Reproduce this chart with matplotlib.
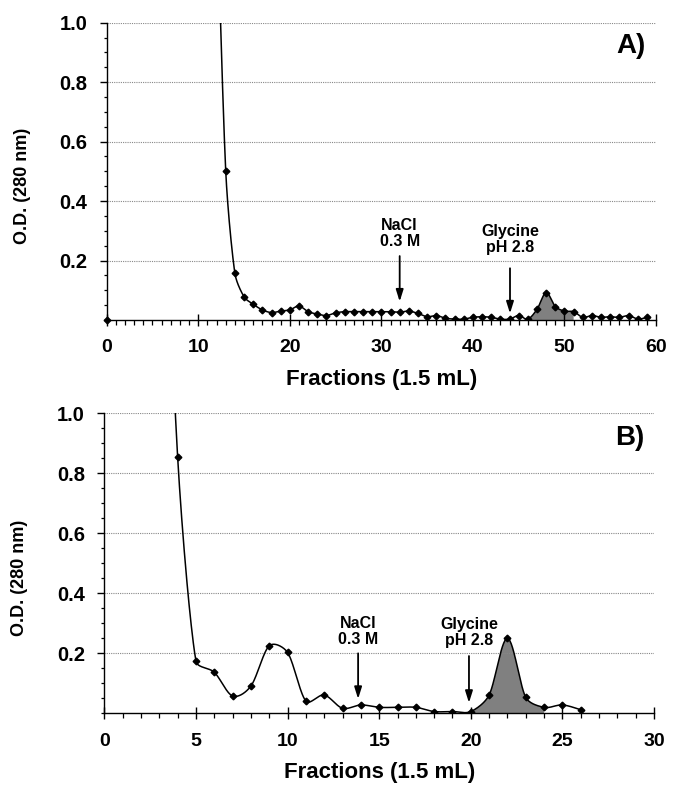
import matplotlib.pyplot as plt
import numpy as np
from matplotlib.ticker import MultipleLocator

plt.rcParams['font.family'] = ['Liberation Sans', 'DejaVu Sans']
plt.rcParams['font.weight'] = 'bold'

# panel A: fractions 12..59 (fraction 12 is off scale)
xa = list(range(12, 60))
ya = [1.45, 0.50, 0.157, 0.078, 0.053, 0.034, 0.025, 0.030, 0.034, 0.047,
      0.028, 0.020, 0.015, 0.024, 0.028, 0.028, 0.028, 0.028, 0.028, 0.028,
      0.026, 0.030, 0.022, 0.011, 0.015, 0.006, 0.003, 0.003, 0.009, 0.011,
      0.009, 0.003, 0.003, 0.015, 0.003, 0.036, 0.092, 0.045, 0.030, 0.028,
      0.009, 0.015, 0.009, 0.011, 0.009, 0.015, 0.003, 0.009]
fill_a = (46, 51)

# panel B: fractions 3..26 (fraction 3 is off scale)
xb = list(range(3, 27))
yb = [2.3, 0.855, 0.174, 0.137, 0.058, 0.091, 0.225, 0.203, 0.041, 0.061,
      0.017, 0.028, 0.020, 0.020, 0.020, 0.006, 0.006, 0.006, 0.061, 0.250,
      0.053, 0.020, 0.028, 0.012]
fill_b = (20, 24)


def smooth(x, y, sx, sy, n=30):
    # Excel-like smoothed line: catmull-rom bezier in screen space,
    # control arms capped so steep neighbours don't make hooks
    P = np.column_stack([np.asarray(x, float) * sx, np.asarray(y, float) * sy])
    N = len(P)
    segs = []
    t = np.linspace(0, 1, n)[:, None]
    for i in range(N - 1):
        p0, p1 = P[i], P[i+1]
        d = np.linalg.norm(p1 - p0)
        a = P[i-1] if i > 0 else P[i]
        b = P[i+2] if i + 2 < N else P[i+1]
        v0 = (p1 - a) / 6
        v1 = (b - p0) / 6
        if np.linalg.norm(v0) > d / 3:
            v0 = v0 / np.linalg.norm(v0) * d / 3
        if np.linalg.norm(v1) > d / 3:
            v1 = v1 / np.linalg.norm(v1) * d / 3
        c1 = p0 + v0
        c2 = p1 - v1
        pts = (1-t)**3 * p0 + 3*(1-t)**2*t * c1 + 3*(1-t)*t**2 * c2 + t**3 * p1
        segs.append(pts / [sx, sy])
    return segs


def panel(ax, x, y, fill, xmax, xmajor, sx, sy, label, arrows, extra=None):
    segs = smooth(x, y, sx, sy)
    i0, i1 = x.index(fill[0]), x.index(fill[1])
    poly = np.concatenate(segs[i0:i1])
    px = np.concatenate([poly[:, 0], [fill[1], fill[0]]])
    py = np.concatenate([poly[:, 1], [0, 0]])
    ax.fill(px, py, color='#808080', lw=0)
    curve = np.concatenate(segs)
    ax.plot(curve[:, 0], curve[:, 1], color='black', lw=1.1)
    ax.plot(x, y, ls='none', marker='D', ms=3.4, color='black')
    if extra is not None:
        ax.plot([extra[0]], [extra[1]], ls='none', marker='D', ms=3.4,
                color='black', clip_on=False)
    ax.set_xlim(0, xmax)
    ax.set_ylim(0, 1.0)
    ax.yaxis.set_minor_locator(MultipleLocator(0.05))
    ax.xaxis.set_major_locator(MultipleLocator(xmajor))
    ax.xaxis.set_minor_locator(MultipleLocator(1))
    ax.set_yticks([0.2, 0.4, 0.6, 0.8, 1.0])
    ax.set_yticklabels(['0.2', '0.4', '0.6', '0.8', '1.0'])
    ax.grid(axis='y', which='major', color='#888888', ls=(0, (1, 1)), lw=0.8)
    for s in ['top', 'right']:
        ax.spines[s].set_visible(False)
    ax.spines['left'].set_linewidth(1.0)
    ax.spines['bottom'].set_linewidth(1.0)
    ax.tick_params(axis='x', which='major', direction='inout', length=9,
                   width=1.0, labelsize=14, pad=9.5)
    ax.tick_params(axis='x', which='minor', direction='out', length=3.5, width=0.9)
    ax.tick_params(axis='y', which='major', direction='out', length=5,
                   width=1.0, labelsize=14.5, pad=9)
    ax.tick_params(axis='y', which='minor', direction='out', length=2.5, width=0.9)
    for tl in ax.get_xticklabels() + ax.get_yticklabels():
        tl.set_fontweight('bold')
    ax.set_xlabel('Fractions (1.5 mL)', fontsize=16, fontweight='bold', labelpad=9)
    ax.set_ylabel('O.D. (280 nm)', fontsize=13, fontweight='bold')
    ax.yaxis.set_label_coords(-0.138, 0.45)
    ax.text(label[1], label[2], label[0], fontsize=20, fontweight='bold',
            ha='center', va='center')
    for txt, ax_x, ytxt, y0, y1 in arrows:
        ax.text(ax_x, ytxt, txt, ha='center', va='bottom', fontsize=11.5,
                fontweight='bold', linespacing=1.05)
        ax.annotate('', xy=(ax_x, y1), xytext=(ax_x, y0),
                    arrowprops=dict(arrowstyle='-|>,head_width=0.22,head_length=0.7',
                                    color='black', lw=1.3, shrinkA=0, shrinkB=0))


fig = plt.figure(figsize=(6.85, 7.87), dpi=100)
ax1 = fig.add_axes([0.1558, 0.5934, 0.8019, 0.3778])
ax2 = fig.add_axes([0.1523, 0.0936, 0.8025, 0.3812])

panel(ax1, xa, ya, fill_a, 60, 10, 9.155, 297.0, ('A)', 57.3, 0.92),
      [('NaCl\n0.3 M', 32.0, 0.239, 0.215, 0.062),
       ('Glycine\npH 2.8', 44.05, 0.219, 0.174, 0.022)],
      extra=(0, 0))
panel(ax2, xb, yb, fill_b, 30, 5, 18.33, 300.0, ('B)', 28.7, 0.918),
      [('NaCl\n0.3 M', 13.85, 0.222, 0.200, 0.048),
       ('Glycine\npH 2.8', 19.9, 0.218, 0.191, 0.035)])

fig.savefig('out.png', dpi=100)
